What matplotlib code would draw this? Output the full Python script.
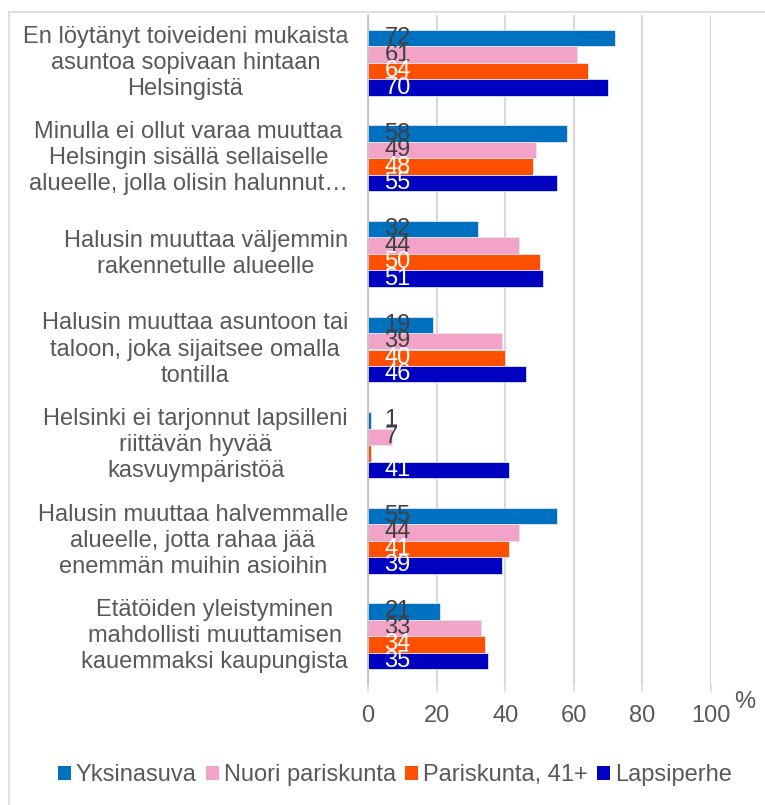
import matplotlib.pyplot as plt
import numpy as np
from matplotlib.lines import Line2D
from matplotlib.patches import Patch

plt.rcParams['font.family'] = ['Liberation Sans', 'DejaVu Sans']

categories = [
    "En löytänyt toiveideni mukaista\nasuntoa sopivaan hintaan\nHelsingistä",
    "Minulla ei ollut varaa muuttaa\nHelsingin sisällä sellaiselle\nalueelle, jolla olisin halunnut…",
    "Halusin muuttaa väljemmin\nrakennetulle alueelle",
    "Halusin muuttaa asuntoon tai\ntaloon, joka sijaitsee omalla\ntontilla",
    "Helsinki ei tarjonnut lapsilleni\nriittävän hyvää\nkasvuympäristöä",
    "Halusin muuttaa halvemmalle\nalueelle, jotta rahaa jää\nenemmän muihin asioihin",
    "Etätöiden yleistyminen\nmahdollisti muuttamisen\nkauemmaksi kaupungista",
]
series = ["Yksinasuva", "Nuori pariskunta", "Pariskunta, 41+", "Lapsiperhe"]
yksinasuva = [72, 58, 32, 19, 1, 55, 21]
nuori = [61, 49, 44, 39, 7, 44, 33]
pariskunta41 = [64, 48, 50, 40, 1, 41, 34]
lapsiperhe = [70, 55, 51, 46, 41, 39, 35]
values = [yksinasuva, nuori, pariskunta41, lapsiperhe]
# the label of the tiny 41+ bar is not shown in the original
show_label = [[True] * 7, [True] * 7, [True, True, True, True, False, True, True], [True] * 7]

colors = ["#0070C0", "#F4A3C8", "#FF5000", "#0000C0"]
label_colors = ["#404040", "#404040", "white", "white"]
xticks = [0, 20, 40, 60, 80, 100]

W, H = 765, 805
fig = plt.figure(figsize=(W / 100, H / 100), dpi=100)
ax = fig.add_axes([368 / W, 1 - 684 / H, (711 - 368) / W, (684 - 15) / H])

n = len(categories)
y = np.arange(n)
bh = 0.1725
for i, vals in enumerate(values):
    pos = y + (i - 1.5) * bh
    ax.barh(pos, vals, height=bh, color=colors[i], edgecolor="#DDE8F5", linewidth=0.6, zorder=3)
    for j, v in enumerate(vals):
        if show_label[i][j]:
            ax.text(4.8, pos[j], str(v), ha="left", va="center", fontsize=17,
                    color=label_colors[i], zorder=4)

ax.set_ylim(n - 0.5, -0.5)
ax.set_xlim(0, 100)
ax.set_xticks(xticks)
ax.set_yticks([])
ax.xaxis.grid(True, color="#D9D9D9", linewidth=1.6, zorder=0)
for s in ["top", "right", "bottom"]:
    ax.spines[s].set_visible(False)
ax.spines["left"].set_color("#BFBFBF")
ax.spines["left"].set_linewidth(1.2)
ax.spines["left"].set_zorder(5)
ax.tick_params(axis="x", length=6, width=1.2, color="#D9D9D9", labelsize=17,
               labelcolor="#595959", pad=9)

for j, c in enumerate(categories):
    ax.text(-0.058, y[j], c, transform=ax.get_yaxis_transform(), ha="right", va="center",
            multialignment="center", fontsize=17, color="#595959", linespacing=1.24)

fig.text(745 / W, 1 - 702 / H, "%", ha="center", va="center", fontsize=17, color="#595959")

handles = [Patch(facecolor=c, edgecolor="none") for c in colors]
fig.legend(handles, series, loc="center", bbox_to_anchor=(395 / W, 1 - 775 / H), ncol=4,
           frameon=False, fontsize=17, labelcolor="#595959", handlelength=0.55,
           handleheight=0.55, handletextpad=0.2, columnspacing=0.4, borderpad=0)

# chart area border (left and top visible)
fig.add_artist(Line2D([9 / W, 9 / W], [0, 1 - 12 / H], color="#D9D9D9", linewidth=1.2))
fig.add_artist(Line2D([9 / W, 1], [1 - 12 / H, 1 - 12 / H], color="#D9D9D9", linewidth=1.2))

fig.savefig("out.png", dpi=100)
